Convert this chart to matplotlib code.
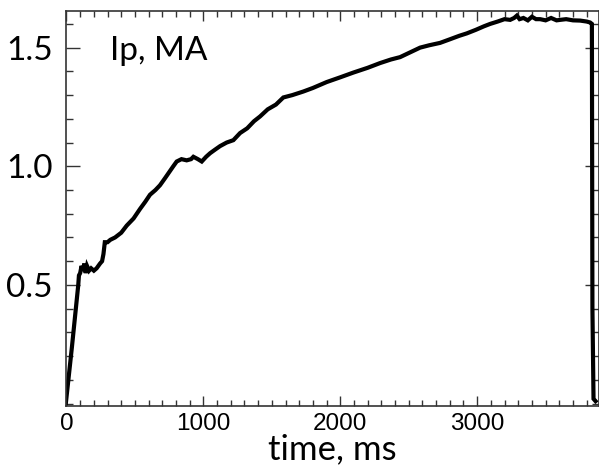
import numpy as np
import matplotlib.pyplot as plt
from matplotlib.ticker import MultipleLocator

# plasma current trace (time in ms, Ip in MA)
time_ms = [-5, 40, 86, 91, 100, 110, 120, 130, 140, 150, 165, 180, 200,
           220, 245, 260, 270, 280, 300, 320, 355, 400, 440, 490, 537, 575,
           610, 650, 683, 720, 756, 780, 805, 840, 878, 910, 927, 960, 988,
           1020, 1049, 1085, 1122, 1170, 1219, 1268, 1320, 1370, 1414, 1470,
           1530, 1584, 1650, 1730, 1800, 1901, 2000, 2096, 2200, 2291, 2370,
           2437, 2510, 2583, 2650, 2729, 2800, 2870, 2924, 2990, 3050, 3095,
           3150, 3200, 3241, 3270, 3290, 3310, 3338, 3370, 3400, 3430, 3460,
           3500, 3540, 3580, 3606, 3650, 3700, 3752, 3800, 3825, 3838, 3842,
           3850, 3865]
ip_ma = [0.0, 0.24, 0.50, 0.54, 0.55, 0.58, 0.56, 0.59, 0.55,
         0.58, 0.56, 0.57, 0.56, 0.57, 0.59, 0.60, 0.63, 0.68, 0.68, 0.69,
         0.70, 0.72, 0.75, 0.78, 0.82, 0.85, 0.88, 0.90, 0.92, 0.95, 0.98,
         1.00, 1.02, 1.03, 1.025, 1.03, 1.04, 1.03, 1.02, 1.04, 1.055, 1.07,
         1.085, 1.10, 1.11, 1.14, 1.16, 1.19, 1.21, 1.24, 1.26, 1.29, 1.30,
         1.315, 1.33, 1.355, 1.375, 1.395, 1.415, 1.435, 1.45, 1.46, 1.48,
         1.50, 1.51, 1.52, 1.535, 1.55, 1.56, 1.575, 1.59, 1.60, 1.61, 1.62,
         1.617, 1.625, 1.635, 1.62, 1.625, 1.615, 1.63, 1.62, 1.62, 1.615,
         1.625, 1.615, 1.617, 1.62, 1.615, 1.614, 1.61, 1.606, 1.60, 0.40,
         0.02, 0.01]

fig = plt.figure(figsize=(5.99, 4.72), dpi=100)
ax = fig.add_axes([0.111, 0.140, 0.889, 0.837])

ax.plot(time_ms, ip_ma, color='black', lw=3, solid_joinstyle='miter')

ax.set_xlim(0, 3890)
ax.set_ylim(-0.01, 1.655)
ax.set_xticks([0, 1000, 2000, 3000])
ax.set_yticks([0.5, 1.0, 1.5])
ax.set_yticklabels(['0.5', '1.0', '1.5'])
ax.xaxis.set_minor_locator(MultipleLocator(100))
ax.yaxis.set_minor_locator(MultipleLocator(0.1))

ax.tick_params(which='both', direction='in', top=True, right=True,
               color='#333333', width=1.0)
ax.tick_params(axis='y', which='major', length=10, pad=10)
ax.tick_params(axis='y', which='minor', length=5)
ax.tick_params(axis='x', which='major', length=7, pad=5)
ax.tick_params(axis='x', which='minor', length=4)

for lbl in ax.get_yticklabels():
    lbl.set_fontfamily('Lato')
    lbl.set_fontsize(24)
for lbl in ax.get_xticklabels():
    lbl.set_fontfamily('Liberation Sans')
    lbl.set_fontsize(17.5)

for sp in ax.spines.values():
    sp.set_color('#333333')
    sp.set_linewidth(1.2)

ax.set_xlabel('time, ms', fontfamily='Lato', fontsize=25, labelpad=-1)
ax.text(0.082, 0.876, 'Ip, MA', transform=ax.transAxes,
        fontfamily='Lato', fontsize=24, va='baseline')

fig.savefig('out.png', dpi=100)
